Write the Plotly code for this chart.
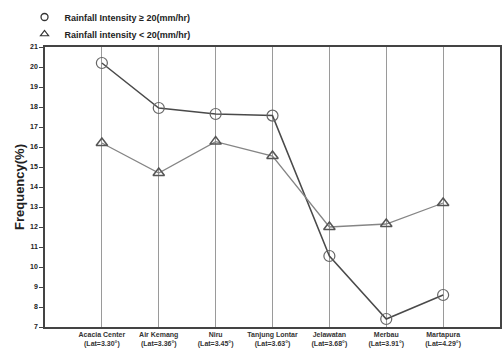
import plotly.graph_objects as go

stations = ["Acacia Center", "Air Kemang", "Niru", "Tanjung Lontar", "Jelawatan", "Merbau", "Martapura"]
latitudes = ["3.30°", "3.36°", "3.45°", "3.63°", "3.68°", "3.91°", "4.29°"]
freq_ge20 = [20.2, 17.95, 17.65, 17.57, 10.55, 7.4, 8.6]
freq_lt20 = [16.2, 14.7, 16.27, 15.55, 12.0, 12.15, 13.2]
y_ticks = list(range(7, 22))

tick_text = [f"{s}<br>(Lat={l})" for s, l in zip(stations, latitudes)]
xs = list(range(len(stations)))

FONT = "Liberation Sans, Arial, sans-serif"

fig = go.Figure()
fig.add_trace(go.Scatter(
    x=xs, y=freq_ge20, mode="lines+markers", showlegend=False,
    line=dict(color="#4a4a4a", width=1.5),
    marker=dict(symbol="circle-open", size=11, color="#666666", line=dict(width=1.2)),
))
fig.add_trace(go.Scatter(
    x=xs, y=freq_lt20, mode="lines+markers", showlegend=False,
    line=dict(color="#858585", width=1.3),
    marker=dict(symbol="triangle-up-open", size=10, color="#555555", line=dict(width=1.5)),
))
# legend entries (marker only)
fig.add_trace(go.Scatter(
    x=[None], y=[None], mode="markers", name="Rainfall Intensity ≥ 20(mm/hr)",
    legend="legend",
    marker=dict(symbol="circle-open", size=7, color="#333333", line=dict(width=1.3)),
))
fig.add_trace(go.Scatter(
    x=[None], y=[None], mode="markers", name="Rainfall intensity < 20(mm/hr)",
    legend="legend2",
    marker=dict(symbol="triangle-up-open", size=7, color="#333333", line=dict(width=1.2)),
))

# plot area: 455 px wide (45..500), 280 px tall (47..327)
legend_style = dict(
    x=-0.045, xanchor="left", yanchor="middle",
    font=dict(size=9, family=FONT, color="#222222", weight="bold"),
    itemwidth=30, bgcolor="rgba(0,0,0,0)",
)

fig.update_layout(
    width=502, height=356,
    margin=dict(l=45, r=2, t=47, b=29, autoexpand=False),
    paper_bgcolor="white", plot_bgcolor="white",
    font=dict(family=FONT, color="#222222"),
    legend=dict(y=(327 - 17) / 280, **legend_style),
    legend2=dict(y=(327 - 34) / 280, **legend_style),
    xaxis=dict(
        range=[-1, 7], tickvals=xs, ticktext=tick_text, automargin=False,
        showgrid=True, gridcolor="#9a9a9a", gridwidth=1.3,
        ticks="", showline=True, linecolor="#444444", linewidth=1.5,
        mirror=True, zeroline=False,
        tickfont=dict(size=7, family=FONT, color="#333333", weight="bold"),
    ),
    yaxis=dict(
        range=[7, 21], tickvals=y_ticks, showgrid=False, automargin=False,
        ticks="outside", ticklen=4, tickcolor="#444444", tickwidth=1,
        showline=True, linecolor="#444444", linewidth=1.5, mirror=True,
        zeroline=False,
        tickfont=dict(size=7, family=FONT, color="#222222", weight="bold"),
        title=dict(text="Frequency(%)", font=dict(size=13, family=FONT, color="#222222", weight="bold"), standoff=3),
    ),
    yaxis2=dict(
        range=[7, 21], tickvals=y_ticks, overlaying="y", side="right", automargin=False,
        showticklabels=False, ticks="inside", ticklen=3, tickcolor="#444444",
        showgrid=False, zeroline=False, showline=False,
    ),
)

fig.write_html(
    "out.html",
    config={"displayModeBar": False},
    post_script="document.body.style.margin='0';document.body.style.overflow='hidden';",
)
